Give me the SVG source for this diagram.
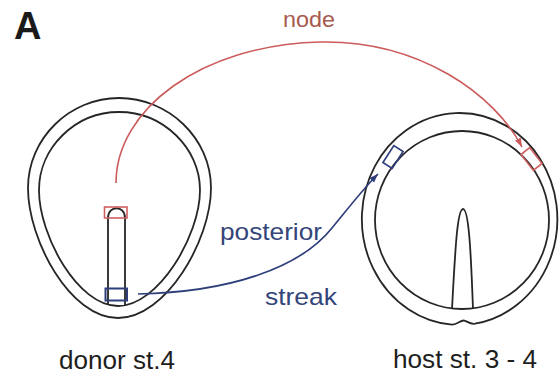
<svg xmlns="http://www.w3.org/2000/svg" width="560" height="378" viewBox="0 0 560 378">
  <style>
    .embryo { fill: none; stroke: #262626; stroke-width: 1.8; }
    .red { fill: none; stroke: #cc5a5a; stroke-width: 1.6; }
    .blue { fill: none; stroke: #2f3f7c; stroke-width: 1.7; }
    .lbl { font-family: "Liberation Sans", Arial, Helvetica, sans-serif; }
    .cap { font-size: 25px; fill: #1e1e1e; }
    .bl { font-size: 24px; fill: #34457a; }
  </style>
  <defs>
    <marker id="arrRed" markerUnits="userSpaceOnUse" markerWidth="10" markerHeight="8" refX="9" refY="4" orient="auto">
      <path d="M0,0.8 L9,4 L0,7.2 Z" fill="#cc5a5a"/>
    </marker>
    <marker id="arrBlue" markerUnits="userSpaceOnUse" markerWidth="10" markerHeight="8" refX="9" refY="4" orient="auto">
      <path d="M0,0.8 L9,4 L0,7.2 Z" fill="#2f3f7c"/>
    </marker>
  </defs>

  <rect width="560" height="378" fill="#ffffff"/>

  <!-- panel letter -->
  <text class="lbl" x="14" y="39" font-size="38" font-weight="bold" fill="#1a1a1a">A</text>

  <!-- donor embryo, stage 4 -->
  <g id="donor">
    <path class="embryo" d="M119,98 C168,98 211,138 211,188 C211,240 166,318 118,318 C70,318 28,240 28,188 C28,138 70,98 119,98 Z"/>
    <path class="embryo" d="M119,112 C163,112 200,148 200,190 C200,236 158,306 118,306 C78,306 39,236 39,190 C39,148 75,112 119,112 Z"/>
    <path class="embryo" d="M108,305 L108,218 C108,205 125,205 125,218 L125,305"/>
    <rect x="104.5" y="207" width="22.5" height="11" fill="none" stroke="#d0605f" stroke-width="1.6"/>
    <rect x="105.5" y="288.5" width="21.5" height="12" fill="none" stroke="#2f3f7c" stroke-width="2"/>
    <text class="lbl cap" x="59" y="369" textLength="116" lengthAdjust="spacingAndGlyphs">donor st.4</text>
  </g>

  <!-- host embryo, stage 3-4 -->
  <g id="host">
    <path class="embryo" d="M452,324.7 A97.75,106 0 1 1 475,323.7 C469,324.5 467,320.5 463.5,320.5 C460,320.5 457,325 452,324.7 Z"/>
    <ellipse class="embryo" cx="462" cy="220" rx="87" ry="89"/>
    <path class="embryo" d="M452,309 C455,255 457,209 463,209 C469,209 471,255 473,309"/>
    <rect x="-10" y="-5.5" width="20" height="11" transform="translate(531.5,159) rotate(52)" fill="none" stroke="#d0605f" stroke-width="1.6"/>
    <rect x="-10" y="-5.5" width="20" height="11" transform="translate(393,157) rotate(-57)" fill="none" stroke="#2f3f7c" stroke-width="1.7"/>
    <text class="lbl cap" x="393" y="368" textLength="144" lengthAdjust="spacingAndGlyphs">host st. 3 - 4</text>
  </g>

  <!-- grafting paths -->
  <g id="connectors">
    <path class="red" d="M116,183 C116,110 200,45 320,42 C420,40 495,95 522,147" marker-end="url(#arrRed)"/>
    <path class="blue" d="M138,294 C230,292 300,268 332,228 C350,206 364,188 378,174" marker-end="url(#arrBlue)"/>
    <text class="lbl" x="283" y="27" font-size="22" fill="#a85a50" textLength="52" lengthAdjust="spacingAndGlyphs">node</text>
    <text class="lbl bl" x="220" y="240" textLength="102" lengthAdjust="spacingAndGlyphs">posterior</text>
    <text class="lbl bl" x="265" y="305" textLength="72" lengthAdjust="spacingAndGlyphs">streak</text>
  </g>
</svg>
